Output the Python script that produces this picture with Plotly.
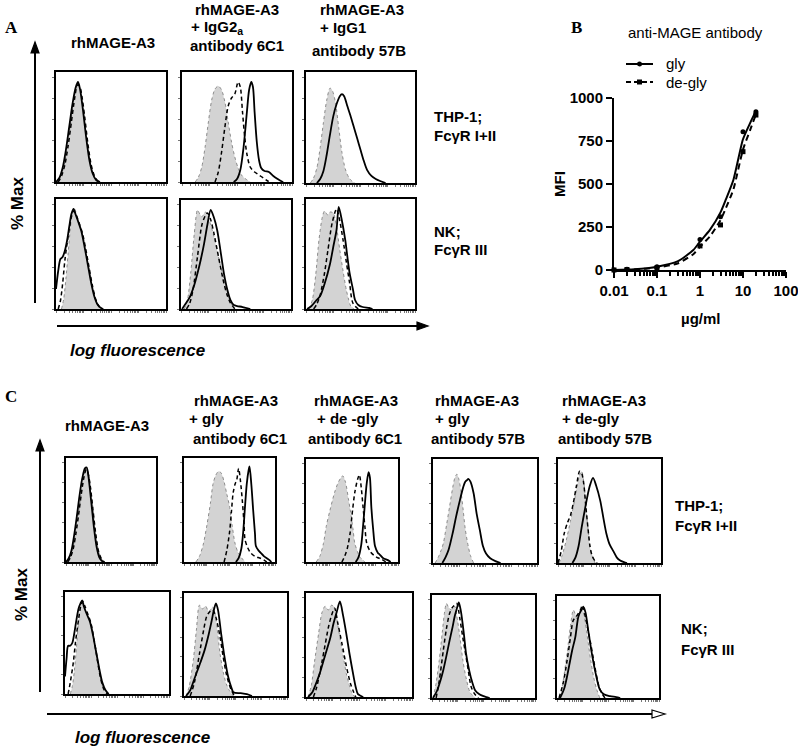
import math
import plotly.graph_objects as go

W, H = 798, 747
SANS = "Liberation Sans"
SERIF = "Liberation Serif"

# ---------------- Panel B data (anti-MAGE antibody binding) ----------------
dose_ug_ml = [0.01, 0.02, 0.1, 1, 3, 10, 20]
mfi_gly = [0, 5, 19, 178, 310, 804, 920]
mfi_degly = [0, 3, 13, 140, 262, 688, 901]
fit_dose = [0.01, 0.03, 0.1, 0.3, 0.7, 1, 1.7, 3, 4, 6, 10, 15, 20]
fit_gly = [0, 4, 19, 50, 116, 165, 233, 335, 410, 525, 760, 860, 925]
fit_degly = [0, 3, 14, 38, 92, 135, 195, 290, 360, 470, 700, 820, 905]
b_ticks = [0.01, 0.1, 1, 10, 100]
b_tick_text = ["0.01", "0.1", "1", "10", "100"]
mfi_ticks = [0, 250, 500, 750, 1000]
series_names = ["gly", "de-gly"]

# ---------------- Histogram curves: (log-fluorescence %, % Max) ----------------
# Panel A, THP-1 row
A_thp_rh_grey = [(1,0),(4,5),(7,15),(10,33),(13,57),(16,80),(18.5,95),(20.5,98),(22.5,90),(25,70),(28,42),(31,20),(34,7),(37,2),(40,0)]
A_thp_rh_dash = [(2,0),(5,6),(8,17),(11,36),(14,60),(17,84),(19.5,97),(21.5,96),(23.5,86),(26,66),(29,38),(32,17),(35,6),(38,1),(41,0)]
A_thp_rh_solid = [(0,0),(3,4),(6,14),(9,32),(12,55),(15,78),(18,95),(20,100),(22,92),(24.5,72),(27.5,44),(30.5,21),(33.5,8),(36.5,2),(40,0)]
A_thp_6c1_grey = [(12,0),(15,5),(18,15),(21,35),(24,60),(27,82),(30,93),(33,96),(36,92),(39,80),(42,60),(45,40),(48,25),(51,14),(54,7),(58,3),(62,0)]
A_thp_6c1_dash = [(30,0),(33,10),(36,30),(39,55),(42,76),(45,84),(48,88),(51,100),(53,95),(55,70),(57,45),(59,28),(62,15),(66,10),(70,7),(74,4),(78,1),(81,0)]
A_thp_6c1_solid = [(47,0),(50,3),(53,12),(56,35),(59,70),(61,92),(63,100),(64.5,95),(66,70),(68,40),(70,22),(72,14),(75,11),(79,10),(83,6),(87,3),(90,1),(92,0)]
A_thp_57b_grey = [(4,0),(7,5),(10,15),(13,35),(16,60),(19,82),(22,94),(24,92),(27,80),(30,55),(33,30),(36,14),(39,6),(42,2),(45,0)]
A_thp_57b_solid = [(10,0),(13,4),(16,12),(19,28),(22,48),(25,66),(28,78),(31,86),(33,88),(35,86),(38,76),(41,66),(44,55),(47,44),(50,33),(53,22),(56,13),(60,7),(64,4),(68,2),(73,0)]
# Panel A, NK row
A_nk_rh_grey = [(5,0),(7,10),(9,30),(11,55),(13,80),(15,97),(17,100),(19,92),(21,85),(24,75),(27,58),(30,40),(33,22),(36,10),(39,3),(42,0)]
A_nk_rh_dash = [(2,0),(4,8),(6,25),(8,48),(10,65),(12,80),(14,92),(16,98),(18,95),(21,86),(24,76),(27,60),(30,42),(33,24),(36,10),(39,3),(42,0)]
A_nk_rh_solid = [(0,20),(2,38),(4,50),(6,52),(8,58),(10,68),(12,82),(14,95),(16,100),(18,94),(20,88),(23,78),(26,62),(29,44),(32,26),(35,12),(38,4),(41,1),(43,0)]
A_nk_6c1_grey = [(3,0),(6,10),(9,38),(12,75),(15,100),(17,96),(19,93),(22,98),(24,95),(27,85),(30,73),(33,58),(36,43),(39,30),(42,19),(45,7),(49,0)]
A_nk_6c1_dash = [(5,0),(8,6),(11,20),(15,53),(19,85),(22,94),(24,97),(27,90),(30,76),(33,59),(36,42),(39,26),(42,14),(45,6),(49,0)]
A_nk_6c1_solid = [(1,0),(4,5),(8,12),(12,24),(15,36),(18,50),(21,66),(24,85),(27,100),(30,92),(33,79),(36,58),(39,36),(42,20),(45,9),(48,4),(51,3),(56,2),(63,0)]
A_nk_57b_grey = [(3,0),(6,10),(9,35),(12,70),(15,92),(17,98),(20,94),(22,97),(25,96),(28,82),(31,59),(34,38),(37,19),(39,10),(41,3),(44,0)]
A_nk_57b_dash = [(7,0),(10,5),(13,14),(17,36),(20,58),(24,86),(28,100),(31,88),(34,69),(37,47),(40,26),(43,6),(48,0)]
A_nk_57b_solid = [(1,0),(5,3),(9,8),(13,13),(17,25),(22,45),(25,62),(28,79),(30,102),(33,88),(36,69),(38,52),(40,36),(43,20),(45,9),(48,4),(52,2),(58,1),(61,0)]
# Panel C, THP-1 row
C_thp_rh_grey = [(1,0),(4,4),(7,12),(10,27),(13,46),(16,66),(19,85),(22,98),(24,97),(26,88),(29,65),(32,38),(35,17),(38,6),(41,1),(43,0)]
C_thp_rh_dash = [(2,0),(5,5),(8,14),(11,30),(14,50),(17,72),(20,90),(22.5,98),(24.5,94),(27,80),(30,55),(33,30),(36,12),(39,4),(42,0)]
C_thp_rh_solid = [(0,0),(3,4),(6,12),(9,28),(12,48),(15,70),(18,88),(21,99),(23,100),(25,90),(28,64),(31,37),(34,16),(37,5),(40,1),(43,0)]
C_thp_g6c1_grey = [(13,0),(17,6),(21,18),(25,38),(29,62),(32,83),(35,92),(38,96),(41,94),(44,85),(47,72),(50,59),(53,38),(56,20),(59,11),(62,6),(67,0)]
C_thp_g6c1_dash = [(44,0),(47,12),(50,31),(52,52),(54,73),(56,82),(58,87),(60,99),(62,86),(64,66),(66,40),(67,24),(70,15),(73,10),(78,6),(84,4),(88,2),(91,0)]
C_thp_g6c1_solid = [(57,0),(60,4),(63,14),(65,31),(67,58),(69,83),(71,97),(72,101),(74,82),(76,55),(78,30),(79,17),(82,12),(84,10),(88,6),(91,4),(94,2),(96,0)]
C_thp_d6c1_grey = [(11,0),(15,6),(19,20),(22,38),(26,55),(31,74),(35,85),(38,90),(40,92),(43,85),(46,68),(48,56),(51,36),(53,20),(56,11),(58,6),(64,0)]
C_thp_d6c1_dash = [(39,0),(42,6),(45,15),(48,31),(50,50),(53,74),(56,88),(58,93),(60,80),(62,59),(64,38),(66,20),(70,11),(74,7),(77,5),(82,3),(87,0)]
C_thp_d6c1_solid = [(54,0),(57,5),(60,18),(62,38),(64,62),(66,84),(68,96),(69.5,90),(71,59),(73,35),(75,17),(78,10),(80,8),(84,4),(89,2),(92,0)]
C_thp_g57b_grey = [(2,0),(5,6),(8,14),(10,21),(13,40),(16,60),(19,80),(21,90),(23,94),(25,88),(27,75),(29,56),(31,36),(34,17),(36,8),(39,0)]
C_thp_g57b_solid = [(9,0),(12,6),(15,14),(19,32),(22,48),(26,67),(29,80),(31,86),(33,88),(34,89),(36,86),(39,74),(42,52),(45,35),(48,18),(51,10),(55,5),(60,2),(65,0)]
C_thp_d57b_grey = [(1,0),(4,8),(8,24),(12,44),(16,66),(19,84),(21,93),(23,97),(25,86),(27,62),(28,48),(30,28),(31,17),(33,8),(36,0)]
C_thp_d57b_dash = [(0,0),(3,12),(6,31),(9,42),(12,50),(15,64),(18,82),(21,97),(23,95),(25,84),(27,60),(29,38),(31,18),(33,8),(36,2),(38,0)]
C_thp_d57b_solid = [(14,0),(17,6),(20,18),(23,38),(26,56),(29,73),(31,82),(34,90),(37,82),(41,66),(44,48),(47,31),(50,20),(54,12),(57,6),(60,3),(64,1),(67,0)]
# Panel C, NK row
C_nk_rh_grey = [(5,0),(7,8),(9,25),(11,50),(13,78),(15,96),(17,101),(19,92),(22,85),(26,72),(29,50),(32,29),(35,13),(37,5),(40,0)]
C_nk_rh_dash = [(3,0),(5,12),(8,34),(10,55),(13,80),(15,94),(17,100),(19,95),(22,86),(25,76),(28,58),(31,38),(34,18),(37,6),(40,1),(42,0)]
C_nk_rh_solid = [(0,19),(1.5,38),(3,52),(5,52),(7,55),(9,66),(11,80),(13,92),(15,98),(16.5,101),(18,95),(21,86),(24,78),(27,63),(30,45),(33,27),(36,12),(39,4),(42,0)]
C_nk_g6c1_grey = [(2,0),(5,10),(9,38),(12,70),(15,97),(18,93),(21,96),(24,90),(28,95),(31,82),(35,45),(38,26),(41,13),(44,6),(48,0)]
C_nk_g6c1_dash = [(6,0),(10,14),(15,45),(19,70),(22,85),(25,90),(28,92),(31,84),(35,63),(38,42),(41,24),(44,12),(46,6),(49,0)]
C_nk_g6c1_solid = [(2,0),(6,6),(9,15),(12,24),(16,36),(20,49),(24,66),(27,81),(29,92),(31,99),(33,92),(36,67),(39,44),(43,20),(46,9),(48,4),(55,3),(61,2),(66,0)]
C_nk_d6c1_grey = [(2,0),(5,12),(8,37),(12,68),(15,89),(18,96),(21,92),(24,97),(27,95),(30,76),(32,63),(35,44),(38,25),(41,12),(43,5),(46,0)]
C_nk_d6c1_dash = [(7,0),(10,10),(15,37),(18,55),(21,73),(24,86),(27,94),(30,78),(34,56),(38,33),(42,14),(45,5),(47,0)]
C_nk_d6c1_solid = [(2,0),(6,5),(9,13),(13,25),(18,44),(23,63),(26,78),(29,90),(32,101),(35,86),(38,67),(41,46),(45,21),(47,10),(49,3),(52,1),(54,0)]
C_nk_g57b_grey = [(1,0),(4,16),(7,40),(10,70),(12,90),(14,101),(16,97),(19,94),(22,98),(24,88),(27,66),(30,40),(33,22),(37,6),(42,0)]
C_nk_g57b_dash = [(4,0),(7,18),(11,51),(14,74),(17,90),(20,97),(24,101),(27,85),(30,64),(32,51),(35,31),(38,12),(41,5),(45,0)]
C_nk_g57b_solid = [(1,0),(5,8),(8,18),(11,30),(14,45),(17,61),(20,76),(22,87),(24,95),(26,102),(28,93),(31,68),(33,48),(36,30),(39,17),(42,8),(46,4),(50,2),(53,1),(56,0)]
C_nk_d57b_grey = [(3,0),(6,18),(10,49),(13,76),(16,95),(18,90),(20,84),(22,92),(24,98),(26,92),(29,72),(33,41),(36,22),(39,9),(42,0)]
C_nk_d57b_dash = [(2,0),(6,16),(10,41),(13,64),(16,84),(19,88),(23,95),(25,100),(28,86),(31,70),(33,59),(37,34),(41,13),(44,5),(47,0)]
C_nk_d57b_solid = [(3,0),(7,10),(10,24),(13,41),(15,52),(18,66),(21,88),(24,95),(26,98),(28,92),(31,70),(34,49),(38,26),(42,9),(46,4),(52,2),(58,1),(62,0)]


def px(x):
    return x / W


def py(y):
    return 1 - y / H


# cell boxes in pixels: (left, right, top, bottom) with their curves (grey, dashed, solid)
cells = [
    ((56, 166, 72, 182), A_thp_rh_grey, A_thp_rh_dash, A_thp_rh_solid),
    ((182, 292, 72, 182), A_thp_6c1_grey, A_thp_6c1_dash, A_thp_6c1_solid),
    ((306, 415, 72, 183), A_thp_57b_grey, None, A_thp_57b_solid),
    ((56, 166, 199, 309), A_nk_rh_grey, A_nk_rh_dash, A_nk_rh_solid),
    ((181, 291, 200, 309), A_nk_6c1_grey, A_nk_6c1_dash, A_nk_6c1_solid),
    ((306, 415, 199, 309), A_nk_57b_grey, A_nk_57b_dash, A_nk_57b_solid),
    ((66, 156, 458, 562), C_thp_rh_grey, C_thp_rh_dash, C_thp_rh_solid),
    ((184, 275, 458, 562), C_thp_g6c1_grey, C_thp_g6c1_dash, C_thp_g6c1_solid),
    ((306, 398, 459, 562), C_thp_d6c1_grey, C_thp_d6c1_dash, C_thp_d6c1_solid),
    ((433, 537, 459, 563), C_thp_g57b_grey, None, C_thp_g57b_solid),
    ((558, 661, 459, 563), C_thp_d57b_grey, C_thp_d57b_dash, C_thp_d57b_solid),
    ((65, 169, 592, 694), C_nk_rh_grey, C_nk_rh_dash, C_nk_rh_solid),
    ((184, 287, 593, 696), C_nk_g6c1_grey, C_nk_g6c1_dash, C_nk_g6c1_solid),
    ((306, 412, 593, 697), C_nk_d6c1_grey, C_nk_d6c1_dash, C_nk_d6c1_solid),
    ((432, 535, 595, 698), C_nk_g57b_grey, C_nk_g57b_dash, C_nk_g57b_solid),
    ((557, 659, 596, 698), C_nk_d57b_grey, C_nk_d57b_dash, C_nk_d57b_solid),
]

hist_xticks = [25 * (d + math.log10(k)) for d in range(4) for k in range(1, 10)] + [100]

fig = go.Figure()
layout_axes = {}


def xy(pts):
    return [p[0] for p in pts], [p[1] for p in pts]


for i, (box, grey, dash, solid) in enumerate(cells, start=1):
    x0, x1, yt, yb = box
    xa = "x" if i == 1 else f"x{i}"
    ya = "y" if i == 1 else f"y{i}"
    xk = "xaxis" if i == 1 else f"xaxis{i}"
    yk = "yaxis" if i == 1 else f"yaxis{i}"
    common = dict(showline=True, linecolor="black", linewidth=2, mirror=True,
                  showgrid=False, zeroline=False, showticklabels=False,
                  ticks="outside", ticklen=2, tickwidth=1, tickcolor="#777",
                  fixedrange=True, automargin=False)
    layout_axes[xk] = dict(domain=[px(x0), px(x1)], anchor=ya, range=[0, 100],
                           tickmode="array", tickvals=hist_xticks, **common)
    layout_axes[yk] = dict(domain=[py(yb), py(yt)], anchor=xa, range=[0, 110],
                           tickmode="array", tickvals=[0, 21, 42, 63, 84, 105], **common)
    gx, gy = xy(grey)
    fig.add_trace(go.Scatter(x=gx, y=gy, xaxis=xa, yaxis=ya, mode="lines",
                             line=dict(color="#8c8c8c", width=1, dash="dot",
                                       shape="spline", smoothing=0.8),
                             fill="tozeroy", fillcolor="#d3d3d3",
                             showlegend=False, hoverinfo="skip"))
    if dash is not None:
        dx, dy = xy(dash)
        fig.add_trace(go.Scatter(x=dx, y=dy, xaxis=xa, yaxis=ya, mode="lines",
                                 line=dict(color="black", width=1.5, dash="4px,3px",
                                           shape="spline", smoothing=0.8),
                                 showlegend=False, hoverinfo="skip"))
    sx, sy = xy(solid)
    fig.add_trace(go.Scatter(x=sx, y=sy, xaxis=xa, yaxis=ya, mode="lines",
                             line=dict(color="black", width=1.8,
                                       shape="spline", smoothing=0.8),
                             showlegend=False, hoverinfo="skip"))

# ---------------- Panel B ----------------
nb = len(cells) + 1
bx, by = f"x{nb}", f"y{nb}"
tickfont = dict(family=SANS, size=15, color="black", weight="bold")
layout_axes[f"xaxis{nb}"] = dict(domain=[px(614), px(786)], anchor=by, type="log",
                                 range=[-2, 2.0005], tickmode="array", tickvals=b_ticks,
                                 ticktext=b_tick_text, ticks="outside", ticklen=6,
                                 tickwidth=2, tickcolor="black", showline=True,
                                 linecolor="black", linewidth=2, showgrid=False,
                                 zeroline=False, tickfont=tickfont, automargin=False,
                                 ticklabeloverflow="allow",
                                 minor=dict(ticks="outside", ticklen=4, tickwidth=1.5,
                                            tickcolor="black", showgrid=False,
                                            tickvals=[m * 10 ** e for e in range(-2, 2) for m in range(2, 10)]),
                                 fixedrange=True)
layout_axes[f"yaxis{nb}"] = dict(domain=[py(270), py(98)], anchor=bx, range=[0, 1000],
                                 tickmode="array", tickvals=mfi_ticks, ticks="outside",
                                 ticklen=6, tickwidth=2, tickcolor="black", showline=True,
                                 linecolor="black", linewidth=2, showgrid=False,
                                 zeroline=False, tickfont=tickfont, fixedrange=True,
                                 ticklabeloverflow="allow", automargin=False)

fig.add_trace(go.Scatter(x=fit_dose, y=fit_gly, xaxis=bx, yaxis=by, mode="lines",
                         name=series_names[0],
                         line=dict(color="black", width=2, shape="spline", smoothing=0.6),
                         showlegend=False, hoverinfo="skip", cliponaxis=False))
fig.add_trace(go.Scatter(x=fit_dose, y=fit_degly, xaxis=bx, yaxis=by, mode="lines",
                         name=series_names[1],
                         line=dict(color="black", width=2, dash="6px,4px", shape="spline", smoothing=0.6),
                         showlegend=False, hoverinfo="skip", cliponaxis=False))
fig.add_trace(go.Scatter(x=dose_ug_ml, y=mfi_gly, xaxis=bx, yaxis=by, mode="markers",
                         name=series_names[0],
                         marker=dict(symbol="circle", size=5, color="black"),
                         showlegend=False, cliponaxis=False))
fig.add_trace(go.Scatter(x=dose_ug_ml, y=mfi_degly, xaxis=bx, yaxis=by, mode="markers",
                         name=series_names[1],
                         marker=dict(symbol="square", size=5, color="black"),
                         showlegend=False, cliponaxis=False))

annotations = []


def text(x, y, s, size=15, bold=True, anchor="left", family=SANS, italic=False, angle=0):
    annotations.append(dict(x=px(x), y=py(y), xref="paper", yref="paper", text=s,
                            showarrow=False, xanchor=anchor, yanchor="middle",
                            textangle=angle,
                            font=dict(family=family, size=size, color="black",
                                      weight="bold" if bold else "normal",
                                      style="italic" if italic else "normal")))


# panel letters
text(3, 27, "A", size=17, family=SERIF)
text(569, 27, "B", size=17, family=SERIF)
text(3, 397, "C", size=17, family=SERIF)

# panel A titles
text(113, 42, "rhMAGE-A3", anchor="center")
text(193, 10, "rhMAGE-A3")
text(189, 27, "+ IgG2<sub>a</sub>")
text(188, 46, "antibody 6C1")
text(318, 10, "rhMAGE-A3")
text(318, 27, "+ IgG1")
text(310, 51, "antibody 57B")
text(432, 117, "THP-1;")
text(432, 135, "FcγR I+II")
text(432, 232, "NK;")
text(432, 250, "FcγR III")
text(17, 204, "% Max", size=17, anchor="center", angle=-90)
text(68, 350, "log fluorescence", size=17, italic=True)

# panel B texts
text(695, 33, "anti-MAGE antibody", bold=False, anchor="center")
text(560, 184, "MFI", anchor="center", angle=-90)
text(700, 318, "µg/ml", anchor="center")
text(664, 64, series_names[0], bold=False)
text(664, 82, series_names[1], bold=False)

# panel C titles
text(107, 425, "rhMAGE-A3", anchor="center")
for (xl1, xl2, xl3, l2, l3) in [(192, 187, 191, "+ gly", "antibody 6C1"),
                                 (312, 315, 306, "+ de -gly", "antibody 6C1"),
                                 (433, 433, 429, "+ gly", "antibody 57B"),
                                 (560, 560, 556, "+ de-gly", "antibody 57B")]:
    text(xl1, 400, "rhMAGE-A3")
    text(xl2, 418, l2)
    text(xl3, 438, l3)
text(673, 505, "THP-1;")
text(673, 525, "FcγR I+II")
text(679, 628, "NK;")
text(679, 649, "FcγR III")
text(21, 595, "% Max", size=17, anchor="center", angle=-90)
text(73, 737, "log fluorescence", size=17, italic=True)

shapes = []


def line(xa_, ya_, xb_, yb_, w=2, dash="solid"):
    shapes.append(dict(type="line", xref="paper", yref="paper", x0=px(xa_), y0=py(ya_),
                       x1=px(xb_), y1=py(yb_), line=dict(color="black", width=w, dash=dash)))


def tri(pts, fill):
    d = "M " + " L ".join(f"{px(a):.5f},{py(b):.5f}" for a, b in pts) + " Z"
    shapes.append(dict(type="path", xref="paper", yref="paper", path=d,
                       fillcolor=fill, line=dict(color="black", width=1.2)))


# panel A arrows
line(35, 303, 35, 52)
tri([(31, 53), (35, 42), (39, 53)], "black")
line(57, 326, 418, 326)
tri([(417, 322), (428, 326), (417, 330)], "black")
# panel C arrows
line(40, 692, 40, 450)
tri([(36, 451), (40, 440), (44, 451)], "black")
line(47, 714, 652, 714)
tri([(652, 710), (665, 714), (652, 718)], "white")

# panel B legend keys
line(626, 64, 653, 64, w=2)
shapes.append(dict(type="circle", xref="paper", yref="paper", x0=px(637), x1=px(642),
                   y0=py(61.5), y1=py(66.5), fillcolor="black", line=dict(color="black", width=0)))
line(626, 82, 653, 82, w=2, dash="5px,3px")
shapes.append(dict(type="rect", xref="paper", yref="paper", x0=px(637), x1=px(642),
                   y0=py(79.5), y1=py(84.5), fillcolor="black", line=dict(color="black", width=0)))

fig.update_layout(width=W, height=H, margin=dict(l=0, r=0, t=0, b=0, pad=0, autoexpand=False),
                  paper_bgcolor="white", plot_bgcolor="white", showlegend=False,
                  annotations=annotations, shapes=shapes,
                  **layout_axes)

fig.write_html("out.html", config={"displayModeBar": False},
               post_script="document.body.style.margin='0';document.body.style.padding='0';")
